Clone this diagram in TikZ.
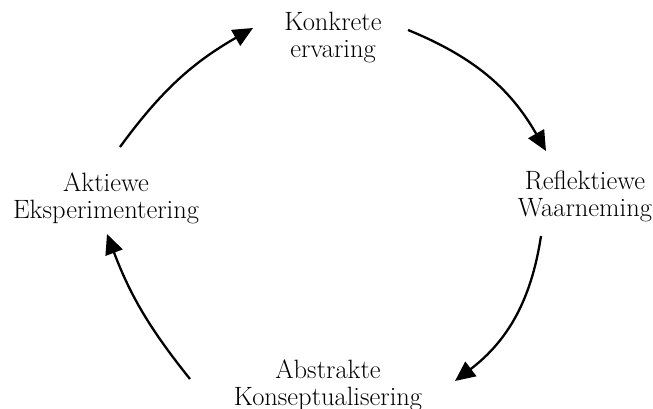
\documentclass[tikz,border=0pt]{standalone}
\usetikzlibrary{arrows.meta}
\begin{document}
\begin{tikzpicture}[x=1pt,y=-1pt,
  lbl/.style={align=center,inner sep=0pt,font=\fontsize{26.5}{27}\selectfont},
  arr/.style={line width=2.3pt,-{Triangle[length=20pt,width=18pt]}}]
\useasboundingbox (0,0) rectangle (653,409);
\node[lbl] (k) at (333,38) {Konkrete\\ervaring};
\node[lbl] (r) at (585,196) {Reflektiewe\\Waarneming};
\node[lbl] (a) at (328,385) {Abstrakte\\Konseptualisering};
\node[lbl] (e) at (106,198) {Aktiewe\\Eksperimentering};
\coordinate (s1) at (408,30);  \coordinate (t1) at (546,151);
\coordinate (s2) at (541,236); \coordinate (t2) at (455,381);
\coordinate (s3) at (190,379); \coordinate (t3) at (107,234);
\coordinate (s4) at (120,147); \coordinate (t4) at (253,28);
\draw[arr] (s1) to[bend left=19] (t1);
\draw[arr] (s2) to[bend left=22] (t2);
\draw[arr] (s3) to[bend left=9] (t3);
\draw[arr] (s4) to[bend left=12] (t4);
\end{tikzpicture}
\end{document}
